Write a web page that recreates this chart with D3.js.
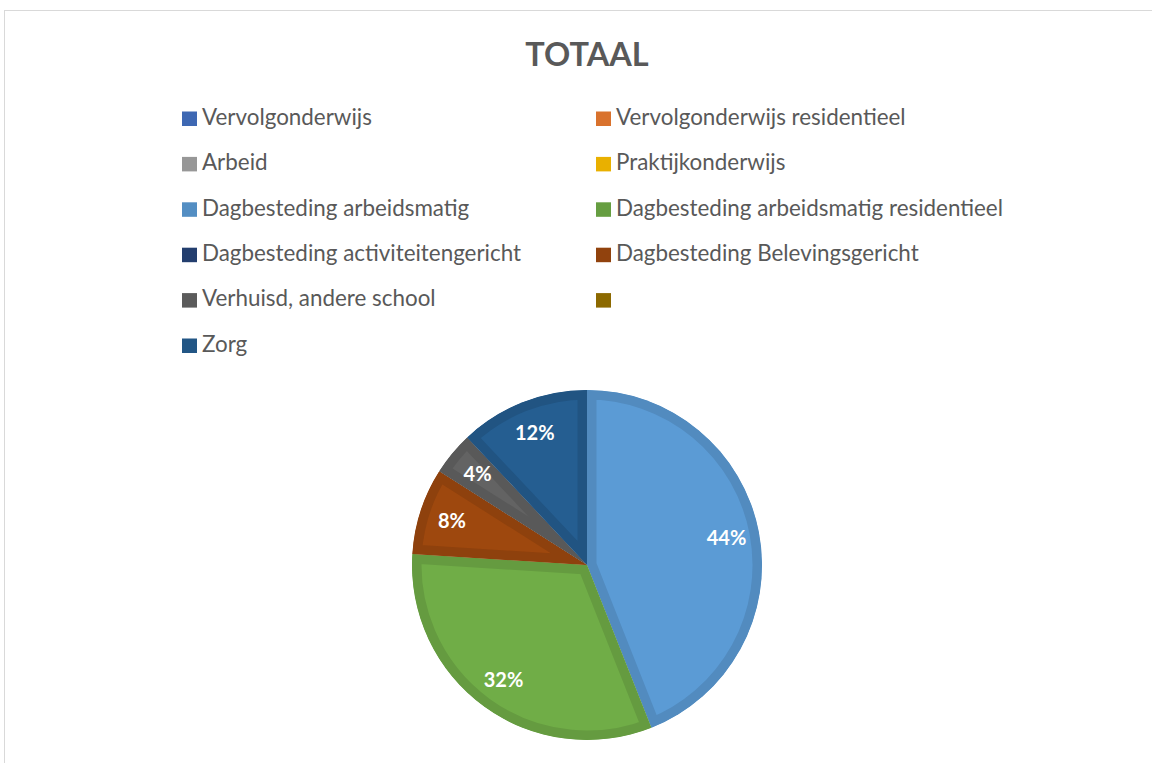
<!DOCTYPE html>
<html lang="nl">
<head>
<meta charset="utf-8" />
<title>TOTAAL</title>
<script src="https://cdn.jsdelivr.net/npm/d3@7"></script>
<style>
  body { margin: 0; background: #fff; font-family: Lato, "Open Sans", sans-serif; }
  .legend text { fill: #595959; font-size: 22.4px; }
  .title { fill: #595959; font-size: 32.5px; font-weight: bold; }
  .pct { fill: #fff; font-size: 20px; font-weight: bold; }
</style>
</head>
<body>
<div id="chart"></div>
<script>
  var width = 1152, height = 763;

  // categories in legend order (two columns, left to right)
  var categories = [
    "Vervolgonderwijs", "Vervolgonderwijs residentieel",
    "Arbeid", "Praktijkonderwijs",
    "Dagbesteding arbeidsmatig", "Dagbesteding arbeidsmatig residentieel",
    "Dagbesteding activiteitengericht", "Dagbesteding Belevingsgericht",
    "Verhuisd, andere school", "",
    "Zorg"
  ];
  var values = [0, 0, 0, 0, 44, 32, 0, 8, 4, 0, 12];
  var colors = ["#4472c4", "#ed7d31", "#a5a5a5", "#ffc000", "#5b9bd5", "#70ad47",
                "#264478", "#9e480e", "#636363", "#997300", "#255e91"];

  var cx = 587, cy = 565, r = 175;

  var svg = d3.select("#chart").append("svg")
      .attr("width", width)
      .attr("height", height);

  // chart frame
  svg.append("rect")
      .attr("x", 4.5).attr("y", 10.5)
      .attr("width", width + 20).attr("height", height + 20)
      .attr("fill", "none")
      .attr("stroke", "#d9d9d9");

  svg.append("text")
      .attr("class", "title")
      .attr("x", cx).attr("y", 66)
      .attr("text-anchor", "middle")
      .text("TOTAAL");

  // legend
  var colX = [182, 596], rowY0 = 119, rowStep = 45.4;
  var legend = svg.append("g").attr("class", "legend");
  var item = legend.selectAll("g")
      .data(categories)
      .enter().append("g")
      .attr("transform", function(d, i) {
        return "translate(" + colX[i % 2] + "," + (rowY0 + Math.floor(i / 2) * rowStep) + ")";
      });
  item.append("rect")
      .attr("x", 0).attr("y", -7.5)
      .attr("width", 15).attr("height", 14.5)
      .attr("fill", function(d, i) { return d3.color(colors[i]).darker(0.25); });
  item.append("text")
      .attr("x", 20).attr("y", -2)
      .attr("dy", "0.35em")
      .text(function(d) { return d; });

  // pie
  var pie = d3.pie().sort(null).value(function(d) { return d; });
  var arc = d3.arc().innerRadius(0).outerRadius(r);
  var labelArc = d3.arc().innerRadius(142).outerRadius(142);

  var arcs = pie(values).map(function(a, i) { a.index = i; return a; })
      .filter(function(a) { return a.value > 0; });

  var g = svg.append("g").attr("transform", "translate(" + cx + "," + cy + ")");
  var defs = svg.append("defs");

  defs.selectAll("clipPath")
      .data(arcs)
      .enter().append("clipPath")
      .attr("id", function(d) { return "clip" + d.index; })
      .append("path")
      .attr("d", arc);

  g.selectAll("path.slice")
      .data(arcs)
      .enter().append("path")
      .attr("class", "slice")
      .attr("d", arc)
      .attr("clip-path", function(d) { return "url(#clip" + d.index + ")"; })
      .attr("fill", function(d) { return colors[d.index]; })
      .attr("stroke", function(d) { return d3.color(colors[d.index]).darker(0.3); })
      .attr("stroke-width", 19)
      .attr("stroke-linejoin", "miter");

  g.selectAll("text.pct")
      .data(arcs)
      .enter().append("text")
      .attr("class", "pct")
      .attr("transform", function(d) { return "translate(" + labelArc.centroid(d) + ")"; })
      .attr("text-anchor", "middle")
      .attr("dy", "0.35em")
      .text(function(d) { return d.value + "%"; });
</script>
</body>
</html>
